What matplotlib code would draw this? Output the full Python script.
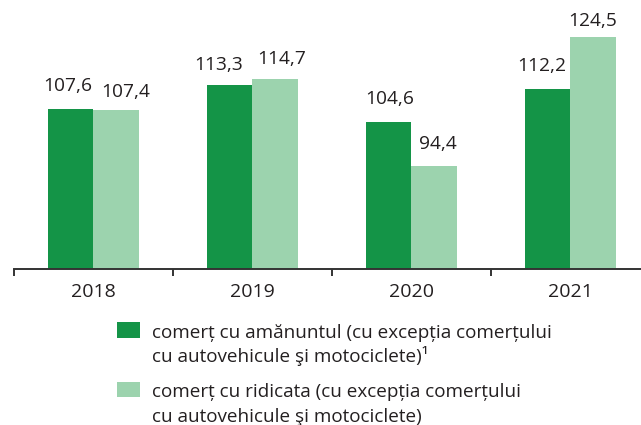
import matplotlib
matplotlib.use("Agg")
import matplotlib.pyplot as plt
from matplotlib.patches import Rectangle

plt.rcParams['font.family'] = ['Open Sans', 'DejaVu Sans']

years = ['2018', '2019', '2020', '2021']
retail = [107.6, 113.3, 104.6, 112.2]
wholesale = [107.4, 114.7, 94.4, 124.5]

retail_label = ['comerț cu amănuntul (cu excepția comerțului',
                'cu autovehicule şi motociclete)¹']
wholesale_label = ['comerț cu ridicata (cu excepția comerțului',
                   'cu autovehicule şi motociclete)']

dark = '#149447'
light = '#9cd3ae'
ink = '#231f20'

# label nudges in pixels (dx, height of baseline above the bar)
retail_dx = [-3, -11, 1.5, -6]
retail_dy = [18.5, 15, 18, 18]
wholesale_dx = [10, 7, 3.5, 0]
wholesale_dy = [13, 14.5, 17, 10.5]

W, H = 641, 425
fig = plt.figure(figsize=(W / 100, H / 100), dpi=100)
ax = fig.add_axes([14 / W, (H - 269.3) / H, 635.5 / W, 269.3 / H])

w = 0.286
x = range(len(years))
ax.bar([i - w / 2 for i in x], retail, w, color=dark, linewidth=0)
ax.bar([i + w / 2 for i in x], wholesale, w, color=light, linewidth=0)

for i in x:
    ax.annotate(f'{retail[i]:.1f}'.replace('.', ','), (i - w / 2, retail[i]),
                xytext=(retail_dx[i], retail_dy[i]), textcoords='offset pixels',
                ha='center', va='baseline', fontsize=13.8, color=ink)
    ax.annotate(f'{wholesale[i]:.1f}'.replace('.', ','), (i + w / 2, wholesale[i]),
                xytext=(wholesale_dx[i], wholesale_dy[i]), textcoords='offset pixels',
                ha='center', va='baseline', fontsize=13.8, color=ink)

ax.set_xlim(-0.5, len(years) - 0.5)
ax.set_ylim(70.35, 133.0)
for s in ['top', 'right', 'left']:
    ax.spines[s].set_visible(False)
ax.spines['bottom'].set_color('#333333')
ax.spines['bottom'].set_linewidth(1.4)
ax.spines['bottom'].set_clip_on(False)
ax.set_yticks([])

# boundaries between years get the ticks, the year names sit in between
ax.set_xticks([i - 0.5 for i in x] + [len(years) - 0.5])
ax.set_xticklabels([])
ax.tick_params(axis='x', which='major', length=5, width=1.4, color='#333333', direction='out')
ax.set_xticks(list(x), minor=True)
ax.set_xticklabels(years, minor=True, fontsize=14, color=ink)
ax.tick_params(axis='x', which='minor', length=0, pad=10)

# legend, drawn by hand so the swatch lines up with the first line
def legend_entry(top, color, lines):
    fig.add_artist(Rectangle((117.3 / W, 1 - (top + 15.4) / H), 22.4 / W, 15.4 / H,
                             transform=fig.transFigure, color=color, linewidth=0))
    for k, line in enumerate(lines):
        fig.text(151.5 / W, 1 - (top + 15.4 + k * 24.5) / H, line,
                 fontsize=13.6, color=ink, va='baseline', ha='left')

legend_entry(322.3, dark, retail_label)
legend_entry(382.0, light, wholesale_label)

fig.savefig('out.png', dpi=100)
